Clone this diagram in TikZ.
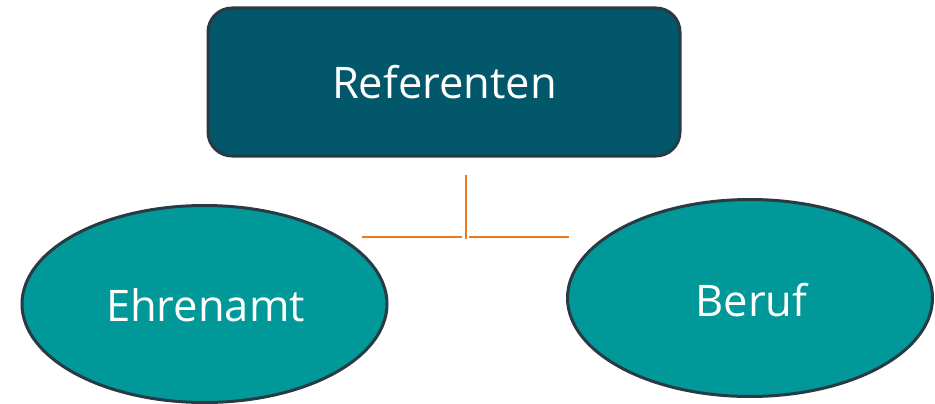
\documentclass[tikz,border=0pt]{standalone}
\usepackage{fontspec}
\setmainfont{Open Sans}
\usetikzlibrary{shapes.geometric}
\definecolor{boxfill}{RGB}{2,88,106}
\definecolor{ellfill}{RGB}{0,152,152}
\definecolor{edge}{RGB}{40,58,68}
\definecolor{conn}{RGB}{232,121,30}
\begin{document}
\begin{tikzpicture}[x=1pt,y=-1pt,
  topbox/.style={draw=edge,line width=3pt,fill=boxfill,rounded corners=24pt,
    minimum width=472pt,minimum height=148pt,inner sep=0pt},
  ellnode/.style={ellipse,draw=edge,line width=3pt,fill=ellfill,inner sep=0pt,
    minimum width=365pt,minimum height=197pt},
  label/.style={text=white,inner sep=0pt,anchor=base,
    font=\fontsize{43.5}{48}\selectfont},
  connline/.style={draw=conn,line width=2.6pt}]
\useasboundingbox (0,0) rectangle (935,404);
\node[topbox] (ref) at (444,82) {};
\node[label] (reftext) at (444.5,98.3) {Referenten};
\node[ellnode] (ehr) at (204.5,304) {};
\node[label] (ehrtext) at (205.5,321.7) {Ehrenamt};
\node[ellnode] (ber) at (750,298) {};
\node[label] (bertext) at (751.5,316.7) {Beruf};
\coordinate (vt) at (466,175);
\coordinate (vb) at (466,239);
\coordinate (hl1) at (362,237);
\coordinate (hl2) at (462,237);
\coordinate (hr1) at (469,237);
\coordinate (hr2) at (569,237);
\draw[connline] (vt) -- (vb);
\draw[connline] (hl1) -- (hl2);
\draw[connline] (hr1) -- (hr2);
\end{tikzpicture}
\end{document}
